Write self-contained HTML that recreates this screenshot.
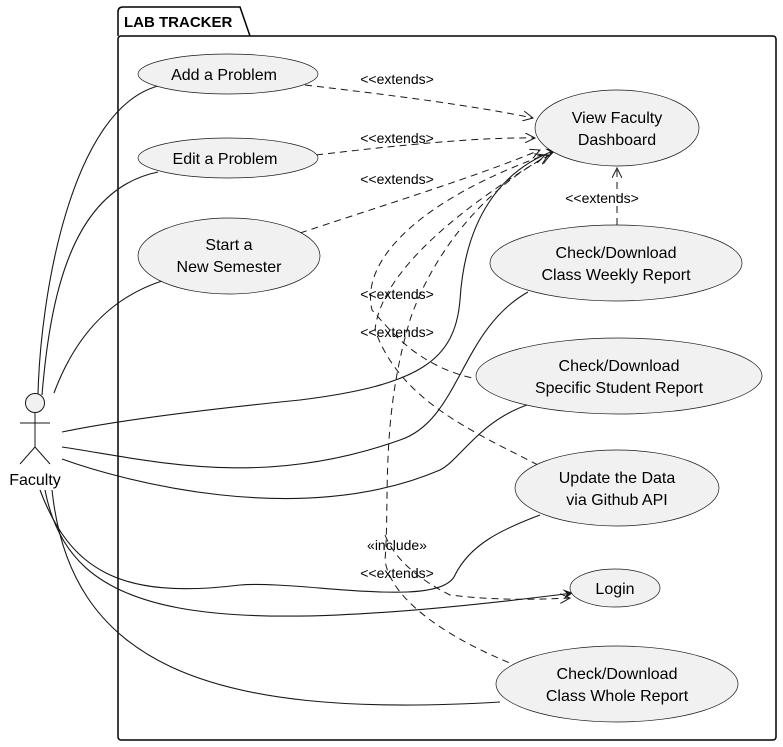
<!DOCTYPE html>
<html><head><meta charset="utf-8"><style>
html,body{margin:0;padding:0;background:#fff;}
svg{display:block;font-family:"Liberation Sans",sans-serif;}
</style></head><body>
<svg width="783" height="747" viewBox="0 0 783 747" xmlns="http://www.w3.org/2000/svg">
<defs>
<marker id="a" markerWidth="12" markerHeight="10" refX="10" refY="5" orient="auto" markerUnits="userSpaceOnUse">
<path d="M0,0 L10,5 L0,10 L4,5 Z" fill="#181818"/></marker>
<marker id="o" markerWidth="12" markerHeight="10" refX="10" refY="5" orient="auto" markerUnits="userSpaceOnUse">
<path d="M0,0 L10,5 L0,10" fill="none" stroke="#181818" stroke-width="1"/></marker>
</defs>
<path d="M118,36 L118,12 Q118,7 123,7 L240,7 L250,36" fill="none" stroke="#000" stroke-width="1.5"/>
<rect x="118" y="36" width="658" height="704" rx="3" fill="none" stroke="#000" stroke-width="1.5"/>
<text x="124" y="27" font-size="15" font-weight="bold">LAB TRACKER</text>

<g fill="none" stroke="#181818" stroke-width="1.1">
<path d="M38,395 C40,300 70,110 158,86"/>
<path d="M42,395 C50,300 70,190 158,172"/>
<path d="M54,393 C70,350 100,300 165,280"/>
<path d="M62,432 C120,420 200,410 300,400 C420,385 455,360 460,300 C465,220 500,170 556,150" marker-end="url(#a)"/>
<path d="M62,447 C150,460 260,490 400,440 C460,420 460,330 528,292"/>
<path d="M62,459 C120,480 300,530 440,470 C460,460 480,420 530,404"/>
<path d="M40,490 C70,570 120,600 240,585 C300,580 440,610 455,575 C470,545 500,530 540,515"/>
<path d="M45,490 C70,620 200,640 573,593" marker-end="url(#a)"/>
<path d="M52,490 C70,660 200,720 500,702"/>
</g>
<g fill="none" stroke="#181818" stroke-width="1" stroke-dasharray="7,5">
<path d="M305,85 C390,95 470,105 533,118" marker-end="url(#o)"/>
<path d="M316,155 C400,145 480,137 535,138" marker-end="url(#o)"/>
<path d="M300,233 C400,200 480,175 540,150" marker-end="url(#o)"/>
<path d="M617,225 L617,168" marker-end="url(#o)"/>
<path d="M483,380 C420,370 390,330 372,310 C360,260 420,200 545,155" marker-end="url(#o)"/>
<path d="M538,465 C470,430 400,400 375,330 C380,280 440,220 548,155" marker-end="url(#o)"/>
<path d="M520,667 C450,640 390,600 385,560 C390,500 380,420 410,320 C430,260 480,190 550,155" marker-end="url(#o)"/>
<path d="M385,535 C395,560 420,580 450,595 C490,600 530,600 570,598" marker-end="url(#o)"/>
</g>

<g fill="#f1f1f1" stroke="#181818" stroke-width="0.7">
<ellipse cx="228" cy="74" rx="90" ry="20"/>
<ellipse cx="228" cy="158" rx="90" ry="20"/>
<ellipse cx="229" cy="256" rx="91" ry="38"/>
<ellipse cx="617" cy="128" rx="82" ry="38"/>
<ellipse cx="616" cy="263" rx="126" ry="38"/>
<ellipse cx="619" cy="376" rx="143" ry="38"/>
<ellipse cx="617" cy="488" rx="102" ry="38"/>
<ellipse cx="615" cy="588" rx="45" ry="19"/>
<ellipse cx="617" cy="684" rx="121" ry="38"/>
</g>
<g font-size="16" fill="#000" text-anchor="middle">
<text x="224" y="80">Add a Problem</text>
<text x="225" y="164">Edit a Problem</text>
<text x="229" y="250">Start a</text><text x="229" y="272">New Semester</text>
<text x="617" y="123">View Faculty</text><text x="617" y="145">Dashboard</text>
<text x="616" y="258">Check/Download</text><text x="616" y="280">Class Weekly Report</text>
<text x="619" y="371">Check/Download</text><text x="619" y="393">Specific Student Report</text>
<text x="617" y="483">Update the Data</text><text x="617" y="505">via Github API</text>
<text x="615" y="594">Login</text>
<text x="617" y="679">Check/Download</text><text x="617" y="701">Class Whole Report</text>
<text x="35" y="485">Faculty</text>
</g>
<g font-size="14" fill="#000" text-anchor="middle">
<text x="397" y="84">&lt;&lt;extends&gt;</text>
<text x="397" y="143">&lt;&lt;extends&gt;</text>
<text x="397" y="184">&lt;&lt;extends&gt;</text>
<text x="602" y="203">&lt;&lt;extends&gt;</text>
<text x="397" y="299">&lt;&lt;extends&gt;</text>
<text x="397" y="337">&lt;&lt;extends&gt;</text>
<text x="397" y="550">«include»</text>
<text x="397" y="578">&lt;&lt;extends&gt;</text>
</g>
<g fill="none" stroke="#181818" stroke-width="1">
<circle cx="35" cy="403" r="9.5" fill="#f1f1f1"/>
<line x1="35" y1="413" x2="35" y2="447"/>
<line x1="20" y1="423" x2="50" y2="423"/>
<line x1="35" y1="447" x2="20" y2="464"/>
<line x1="35" y1="447" x2="50" y2="464"/>
</g>
</svg>
</body></html>
